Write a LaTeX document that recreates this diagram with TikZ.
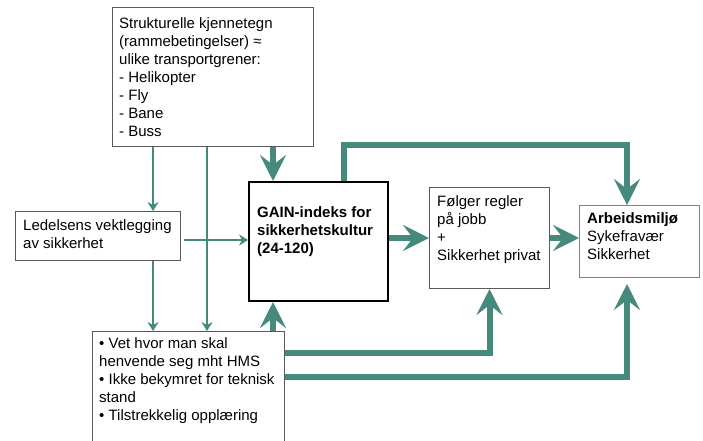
\documentclass[tikz,border=0pt]{standalone}
\usepackage{fontspec}
\setmainfont{Liberation Sans}
\usetikzlibrary{arrows.meta}
\definecolor{teal1}{HTML}{468A7E}
\definecolor{boxgray}{HTML}{5A5A5A}
\begin{document}
\begin{tikzpicture}[x=1pt,y=-1pt,
  box/.style={draw=boxgray, line width=1pt, anchor=north west, inner sep=0pt, fill=white},
  txt/.style={anchor=north west, inner sep=0pt, align=left, font=\fontsize{15}{18}\selectfont},
  thinarr/.style={draw=teal1, line width=1.5pt, -{Stealth[length=9pt,width=11pt,inset=3pt]}},
  thickarr/.style={draw=teal1, line width=6pt, line join=miter, -{Stealth[length=26pt,width=26pt,inset=10pt]}},
]
\path[use as bounding box, clip] (0,0) rectangle (703,441);
% boxes
\node[box, minimum width=201pt, minimum height=139pt] (top) at (112,7) {};
\node[box, minimum width=165pt, minimum height=49pt] (led) at (15,211) {};
\node[box, draw=black, line width=2pt, minimum width=139pt, minimum height=119pt] (gain) at (248,181) {};
\node[box, minimum width=120pt, minimum height=101pt] (folg) at (429,187) {};
\node[box, draw=gray, minimum width=120pt, minimum height=72pt] (arb) at (579,205) {};
\node[box, minimum width=192pt, minimum height=130pt] (bot) at (92,331) {};
% texts
\node[txt] (ttop) at (119,17) {Strukturelle kjennetegn\\(rammebetingelser) \char"2248\\ulike transportgrener:\\- Helikopter\\- Fly\\- Bane\\- Buss};
\node[txt] (tled) at (23,219) {Ledelsens vektlegging\\av sikkerhet};
\node[txt, font=\fontsize{15}{18}\selectfont\bfseries] (tgain) at (257,206.5) {GAIN-indeks for\\sikkerhetskultur\\(24-120)};
\node[txt] (tfolg) at (437,195.5) {Følger regler\\på jobb\\+\\Sikkerhet privat};
\node[txt] (tarb) at (587,212.5) {\textbf{Arbeidsmiljø}\\Sykefravær\\Sikkerhet};
\node[txt] (tbot) at (99,337.5) {• Vet hvor man skal\\henvende seg mht HMS\\• Ikke bekymret for teknisk\\stand\\• Tilstrekkelig opplæring};
% helper coordinates
\coordinate (xa) at (153,0);
\coordinate (xb) at (207,0);
\coordinate (xc) at (273,0);
\coordinate (xd) at (344,145);
\coordinate (xe) at (627,145);
\coordinate (yb1) at (0,353);
\coordinate (yb2) at (0,377);
\coordinate (cb2) at (627,377);
\coordinate (yl) at (0,240);
\coordinate (yg) at (0,238);
% thin arrows
\draw[thinarr] (top.south -| xa) -- (led.north -| xa);
\draw[thinarr] (top.south -| xb) -- (bot.north -| xb);
\draw[thinarr] (led.south -| xa) -- (bot.north -| xa);
\draw[thinarr] ([xshift=3pt]led.east |- yl) -- (gain.west |- yl);
% thick arrows
\draw[thickarr] (top.south -| xc) -- (gain.north -| xc);
\draw[thickarr] (bot.north -| xc) -- (gain.south -| xc);
\draw[thickarr] (gain.north -| xd) -- (xd) -- (xe) -- (arb.north -| xe);
\draw[thickarr] (gain.east |- yg) -- (folg.west |- yg);
\draw[thickarr] (folg.east |- yg) -- (arb.west |- yg);
\draw[thickarr] (bot.east |- yb1) -- (folg.south |- yb1) -- (folg.south);
\draw[thickarr] (bot.east |- yb2) -- (cb2) -- ([yshift=-6pt]arb.south -| cb2);
\end{tikzpicture}
\end{document}
